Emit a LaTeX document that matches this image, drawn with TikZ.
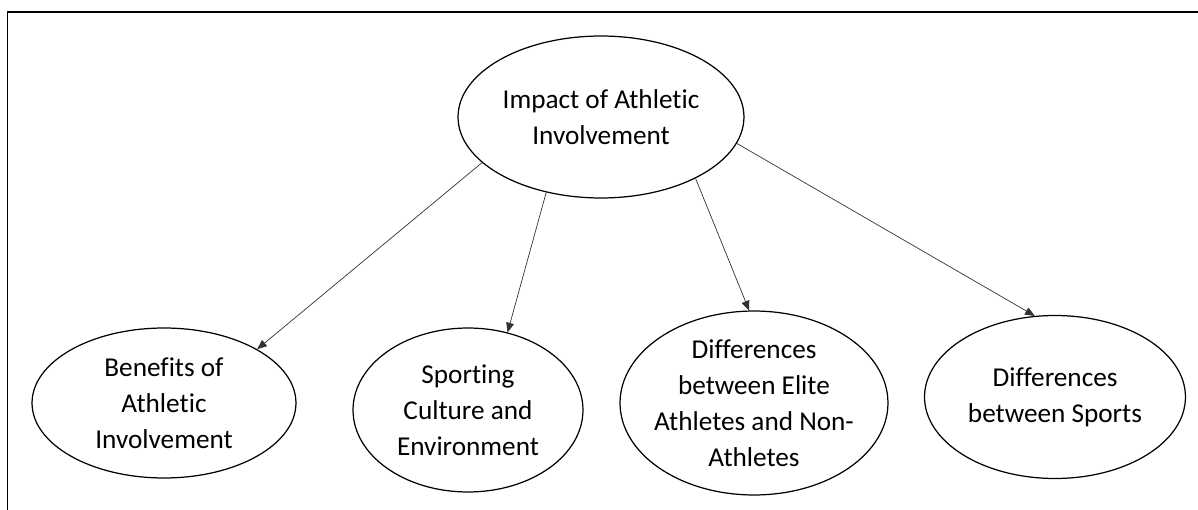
\documentclass[tikz,border=0pt]{standalone}
\usepackage{fontspec}
\setmainfont[Ligatures=NoCommon]{Carlito}
\usetikzlibrary{arrows.meta,shapes.geometric}
\tikzset{
  topic/.style={ellipse,draw,line width=0.7pt,inner sep=0,align=center,
                font=\fontsize{15.5}{20.5}\selectfont},
  link/.style={-{Triangle[length=5.5pt,width=4.5pt]},line width=0.4pt,draw=black!80},
  frameline/.style={line width=0.9pt},
}

\begin{document}
\begin{tikzpicture}[x=0.02cm,y=-0.02cm]
  \useasboundingbox (0,0) rectangle (1198,510);
  % page edge
  \draw[frameline] (1198,12) -- (7.5,12) -- (7.5,510);
  % root topic
  \node[topic,minimum width=5.72cm,minimum height=3.24cm] (impact) at (601,117) {Impact of Athletic\\Involvement};
  % the four themes below it
  \node[topic,minimum width=5.28cm,minimum height=3cm] (benefits) at (164,403) {Benefits of\\Athletic\\Involvement};
  \node[topic,minimum width=4.6cm,minimum height=3.28cm] (sporting) at (468,410) {Sporting\\Culture and\\Environment};
  \node[topic,inner sep=-0.22cm,minimum width=5.36cm,minimum height=3.68cm] (elite) at (754,403) {Differences\\between Elite\\Athletes and Non-\\Athletes};
  \node[topic,minimum width=5.22cm,minimum height=3.26cm] (sports) at (1055,397) {Differences\\between Sports};
  \foreach \n/\s/\e in {benefits/201/30,sporting/234/63,elite/327/93,sports/349/104}
    \draw[link] (impact.\s) -- (\n.\e);
\end{tikzpicture}
\end{document}
